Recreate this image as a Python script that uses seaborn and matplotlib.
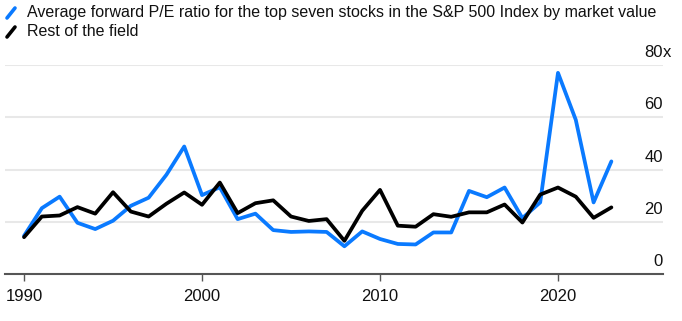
import matplotlib
matplotlib.use("Agg")
import matplotlib.pyplot as plt
import seaborn as sns
import pandas as pd
from matplotlib.lines import Line2D
import matplotlib.transforms as mtransforms

years = list(range(1990, 2024))
top7 = [14.6, 25.2, 29.6, 19.6, 17.2, 20.4, 26.1, 29.2, 38.0, 48.8,
        30.2, 33.2, 21.0, 23.1, 16.8, 16.1, 16.3, 16.1, 10.6, 16.3,
        13.4, 11.5, 11.3, 15.9, 15.9, 31.8, 29.4, 33.1, 21.4, 27.4,
        77.0, 59.0, 27.4, 43.1]
rest = [14.1, 22.0, 22.4, 25.6, 23.1, 31.3, 23.9, 22.0, 26.9, 31.2,
        26.5, 35.0, 23.3, 27.1, 28.2, 22.0, 20.3, 21.0, 12.7, 24.2,
        32.2, 18.5, 18.1, 22.9, 21.9, 23.6, 23.6, 26.6, 19.7, 30.4,
        33.1, 29.6, 21.5, 25.5]
series_names = ["Average forward P/E ratio for the top seven stocks in the S&P 500 Index by market value",
                "Rest of the field"]
yticks = [0, 20, 40, 60, 80]
ytick_labels = ["0", "20", "40", "60", "80"]
xticks = [1990, 2000, 2010, 2020]

BLUE = "#0a7aff"
BLACK = "#000000"

df = pd.DataFrame({
    "year": years * 2,
    "value": top7 + rest,
    "series": [series_names[0]] * len(years) + [series_names[1]] * len(years),
})

sns.set_theme(style="white")
plt.rcParams["font.family"] = ["Liberation Sans", "DejaVu Sans"]

fig = plt.figure(figsize=(6.82, 3.21), dpi=100)
ax = fig.add_axes([5/682, 47/321, 658/682, 209/321])

sns.lineplot(data=df, x="year", y="value", hue="series", hue_order=series_names,
             palette=[BLUE, BLACK], linewidth=2.7, legend=False, ax=ax)
ax.set_xlim(1988.93, 2025.9)
ax.set_ylim(0, 80)
for s in ["top", "right", "left"]:
    ax.spines[s].set_visible(False)
ax.spines["bottom"].set_color("#555555")
ax.spines["bottom"].set_linewidth(1.5)
ax.set_xlabel("")
ax.set_ylabel("")
ax.set_yticks([])
ax.set_xticks(xticks)
ax.set_xticklabels([str(x) for x in xticks], fontsize=12, color="#111111")
ax.tick_params(axis="x", direction="out", length=5, width=1, color="#555555",
               pad=6, bottom=True)
for v in yticks[1:]:
    ax.axhline(v, color="#e8e8e8", linewidth=1.5, zorder=0)

trans = mtransforms.blended_transform_factory(ax.transAxes, ax.transData)
off = mtransforms.ScaledTranslation(0, 8/100, fig.dpi_scale_trans)
for v, lab in zip(yticks, ytick_labels):
    ax.text(1.0, v, lab, transform=trans + off, ha="right", va="baseline",
            fontsize=12, color="#111111", clip_on=False)
    if v == 80:
        ax.text(1.0, v, "x", transform=trans + off, ha="left", va="baseline",
                fontsize=12, color="#111111", clip_on=False)

# legend
renderer = fig.canvas.get_renderer()
texts = []
for i, (name, col) in enumerate(zip(series_names, [BLUE, BLACK])):
    yc = 1 - (13 + 19*i) / 321
    fig.lines.append(Line2D([7/682, 15/682], [yc - 5/321, yc + 5/321],
                            color=col, linewidth=2.6, transform=fig.transFigure))
    t = fig.text(27/682, yc, name, ha="left", va="center", fontsize=12.5, color="#111111")
    texts.append(t)
w = texts[0].get_window_extent(renderer).width
fs = 12.5 * 633 / w
for t in texts:
    t.set_fontsize(fs)

fig.savefig("out.png", dpi=100)
